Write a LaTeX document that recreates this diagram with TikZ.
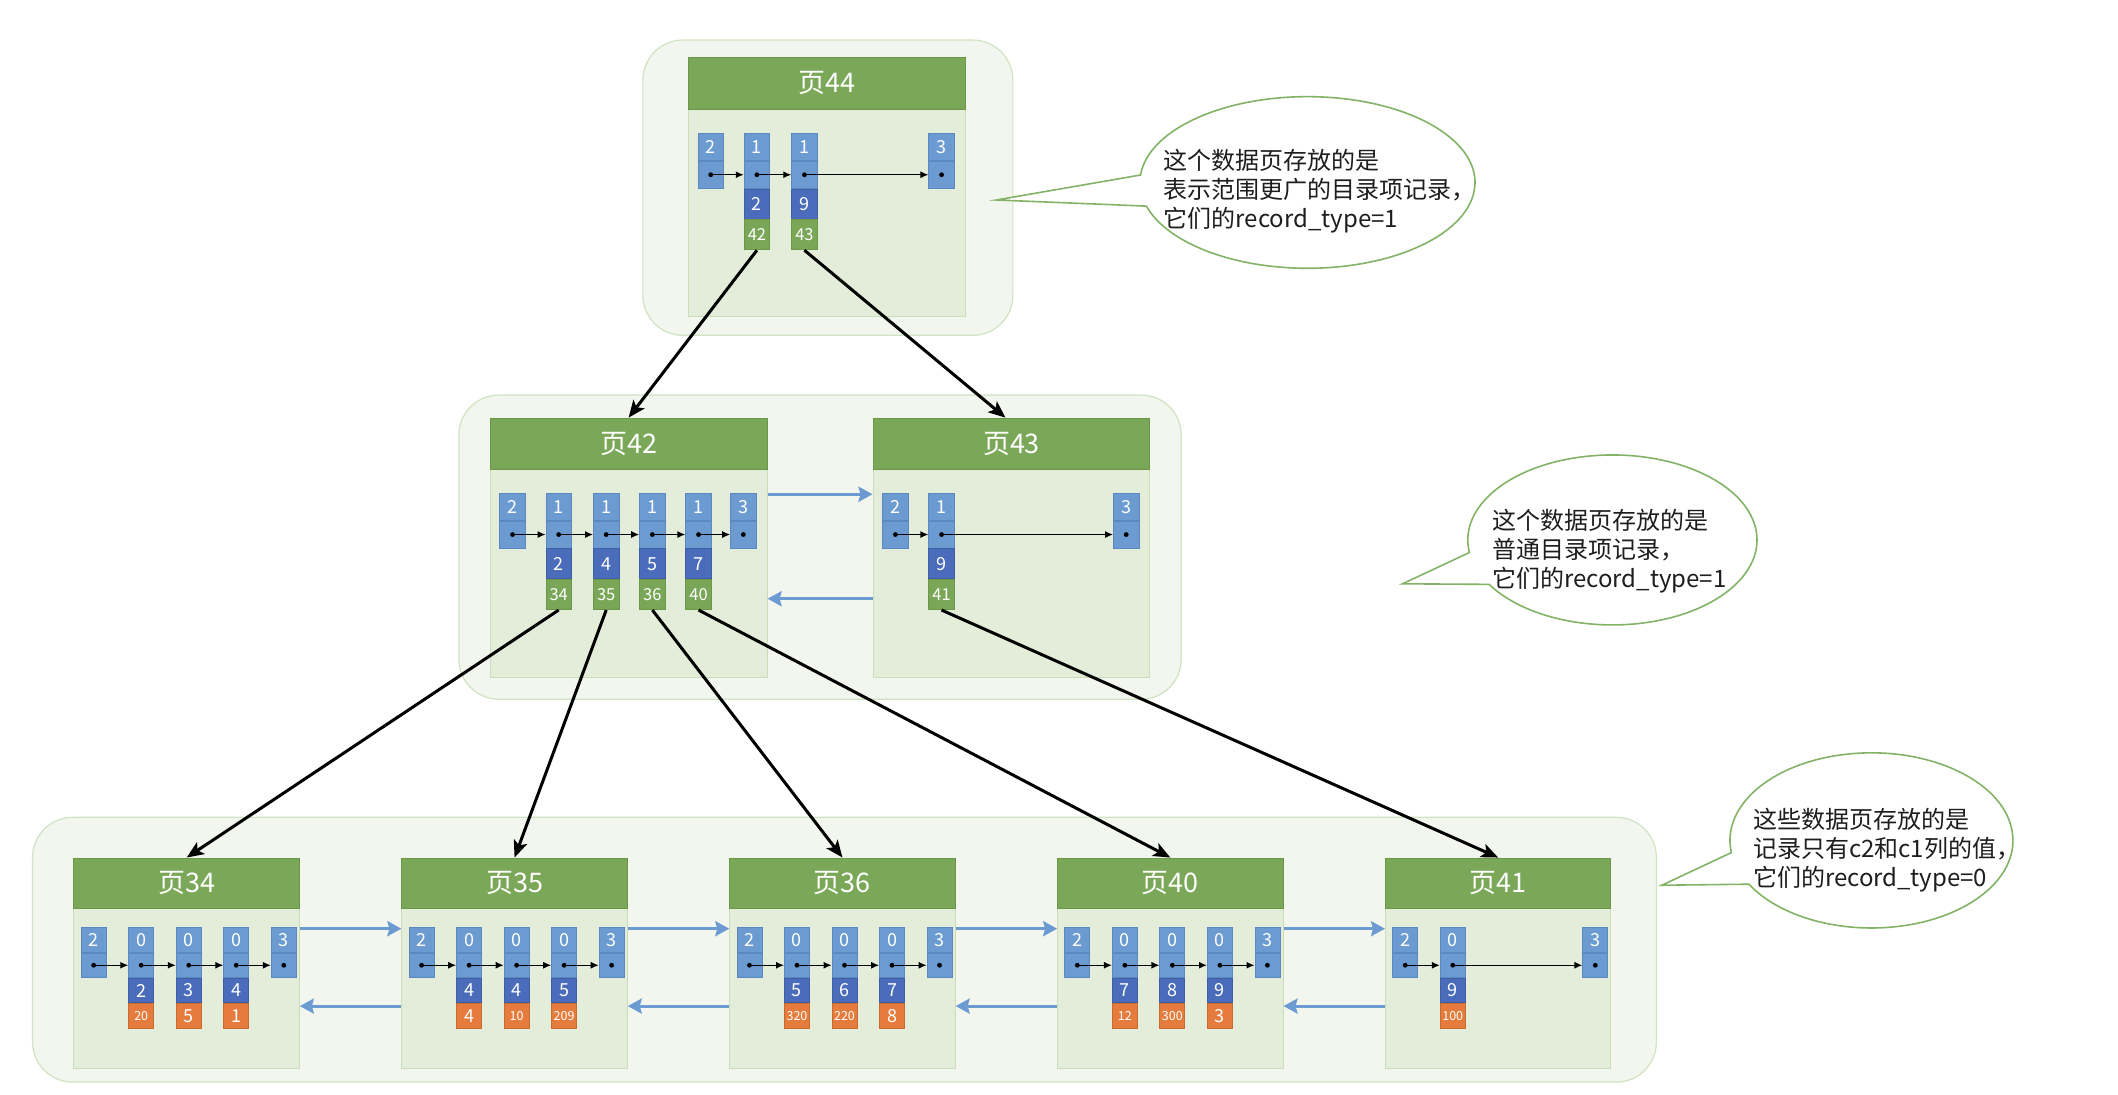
\documentclass[tikz,border=0pt]{standalone}
\usepackage{fontspec}
\setmainfont{Noto Sans CJK SC}
\usetikzlibrary{arrows.meta,fit}
\definecolor{regfill}{HTML}{F2F6EE}
\definecolor{regedge}{HTML}{D0E3C2}
\definecolor{bodyfill}{HTML}{E3EDD9}
\definecolor{bodyedge}{HTML}{C9DDB8}
\definecolor{headfill}{HTML}{7BA858}
\definecolor{headedge}{HTML}{6A9748}
\definecolor{recblue}{HTML}{6C9BD2}
\definecolor{recedge}{HTML}{5B88C0}
\definecolor{keyblue}{HTML}{4A6CBB}
\definecolor{keyedge}{HTML}{3E5EA8}
\definecolor{pggreen}{HTML}{7AA757}
\definecolor{pgedge}{HTML}{6A9748}
\definecolor{valorange}{HTML}{E57B3C}
\definecolor{valedge}{HTML}{C96A30}
\definecolor{calledge}{HTML}{82B366}
\definecolor{textdark}{HTML}{1E1E1E}
\newlength\cellw \newlength\cellha \newlength\cellhb
\newcommand\pagebox[7]{%
  \node[pagebody, fit={(#2,#3)(#4,#6)}] (#1) {};
  \node[pagehead, fit={(#2,#3)(#4,#5)}] (#1h) {};
  \node[headtext] (#1l) at (#1h.center) {#7};}
\newcommand\edgerec[4]{%
  \node[topcell, anchor=north] (#1t) at (#2,#3) {#4};
  \node[topcell, anchor=north] (#1d) at (#1t.south) {};
  \fill (#1d.center) circle[radius=2.4pt];}
\newcommand\userrec[7]{%
  \node[topcell, anchor=north] (#1t) at (#2,#3) {#4};
  \node[topcell, anchor=north] (#1d) at (#1t.south) {};
  \node[keycell, anchor=north] (#1k) at (#1d.south) {#5};
  \node[#6, anchor=north] (#1v) at (#1k.south) {#7};
  \fill (#1d.center) circle[radius=2.4pt];}
\begin{document}
\begin{tikzpicture}[x=1.3577pt,y=-1.3577pt,
  region/.style={draw=regedge, fill=regfill, rounded corners=40pt, inner sep=0pt, line width=1.2pt},
  pagebody/.style={draw=bodyedge, fill=bodyfill, inner sep=0pt, line width=1pt},
  pagehead/.style={draw=headedge, fill=headfill, inner sep=0pt, line width=1pt},
  headtext/.style={text=white, font=\fontsize{27}{27}\selectfont, inner sep=0pt},
  topcell/.style={draw=recedge, fill=recblue, minimum width=\cellw, minimum height=\cellha, inner sep=0pt, text=white, font=\fontsize{18}{18}\selectfont, line width=0.8pt},
  keycell/.style={topcell, draw=keyedge, fill=keyblue, minimum height=\cellhb},
  pgcell/.style={topcell, draw=pgedge, fill=pggreen, minimum height=\cellhb, font=\fontsize{16.5}{16.5}\selectfont},
  valcell/.style={topcell, draw=valedge, fill=valorange, minimum height=\cellhb},
  valsmall/.style={valcell, font=\fontsize{12.5}{12.5}\selectfont},
  link/.style={line width=1.3pt, -{Latex[length=8pt,width=7pt]}},
  treearrow/.style={line width=3pt, -{Stealth[length=17pt,width=14pt,inset=4pt]}},
  pagearrow/.style={draw=recblue, line width=3pt, -{Stealth[length=14pt,width=15pt,inset=2pt]}},
  callout/.style={draw=calledge, fill=white, line width=1.6pt},
  callouttext/.style={anchor=west, align=left, inner sep=0pt, text=textdark, font=\fontsize{24}{29}\selectfont}]

\fill[white] (0,0) rectangle (1560,805.8);
\useasboundingbox (0,0) rectangle (1560,805.8);

% regions
\node[region, fit={(473.5,29.5)(746,247)}] (reg0) {};
\node[region, fit={(338,291)(870,515)}] (reg1) {};
\node[region, fit={(24,602)(1220,797)}] (reg2) {};

% level 0
\pagebox{p44}{507}{42}{711}{81}{233}{页44}
\setlength\cellw{25.5pt}\setlength\cellha{27pt}\setlength\cellhb{30pt}
\edgerec{p44a}{523.5}{98}{2}
\userrec{p44b}{557.5}{98}{1}{2}{pgcell}{42}
\userrec{p44c}{592.5}{98}{1}{9}{pgcell}{43}
\edgerec{p44d}{693.5}{98}{3}
\draw[link] (p44ad.center) -- (p44bd.west);
\draw[link] (p44bd.center) -- (p44cd.west);
\draw[link] (p44cd.center) -- (p44dd.west);

% level 1
\pagebox{p42}{361}{308}{565}{346}{499}{页42}
\pagebox{p43}{643}{308}{847}{346}{499}{页43}
\edgerec{p42a}{377.5}{363}{2}
\userrec{p42b}{411.5}{363}{1}{2}{pgcell}{34}
\userrec{p42c}{446.5}{363}{1}{4}{pgcell}{35}
\userrec{p42d}{480.5}{363}{1}{5}{pgcell}{36}
\userrec{p42e}{514.5}{363}{1}{7}{pgcell}{40}
\edgerec{p42f}{547.5}{363}{3}
\draw[link] (p42ad.center) -- (p42bd.west);
\draw[link] (p42bd.center) -- (p42cd.west);
\draw[link] (p42cd.center) -- (p42dd.west);
\draw[link] (p42dd.center) -- (p42ed.west);
\draw[link] (p42ed.center) -- (p42fd.west);
\edgerec{p43a}{659.5}{363}{2}
\userrec{p43b}{693.5}{363}{1}{9}{pgcell}{41}
\edgerec{p43c}{829.5}{363}{3}
\draw[link] (p43ad.center) -- (p43bd.west);
\draw[link] (p43bd.center) -- (p43cd.west);
\draw[pagearrow] ([yshift=53.6pt]p42.east) -- ([yshift=53.6pt]p43.west);
\draw[pagearrow] ([yshift=-50.9pt]p43.west) -- ([yshift=-50.9pt]p42.east);

% level 2
\setlength\cellw{25pt}\setlength\cellha{24.5pt}\setlength\cellhb{24.5pt}
\pagebox{p34}{54.5}{632}{220.5}{669}{787}{页34}
\pagebox{p35}{296}{632}{462}{669}{787}{页35}
\pagebox{p36}{537.5}{632}{703.5}{669}{787}{页36}
\pagebox{p40}{779}{632}{945}{669}{787}{页40}
\pagebox{p41}{1020.5}{632}{1186.5}{669}{787}{页41}

\edgerec{p34a}{69}{683}{2}
\userrec{p34b}{104}{683}{0}{2}{valsmall}{20}
\userrec{p34c}{139}{683}{0}{3}{valcell}{5}
\userrec{p34d}{174}{683}{0}{4}{valcell}{1}
\edgerec{p34e}{209}{683}{3}

\edgerec{p35a}{310.5}{683}{2}
\userrec{p35b}{345.5}{683}{0}{4}{valcell}{4}
\userrec{p35c}{380.5}{683}{0}{4}{valsmall}{10}
\userrec{p35d}{415.5}{683}{0}{5}{valsmall}{209}
\edgerec{p35e}{450.5}{683}{3}

\edgerec{p36a}{552}{683}{2}
\userrec{p36b}{587}{683}{0}{5}{valsmall}{320}
\userrec{p36c}{622}{683}{0}{6}{valsmall}{220}
\userrec{p36d}{657}{683}{0}{7}{valcell}{8}
\edgerec{p36e}{692}{683}{3}

\edgerec{p40a}{793.5}{683}{2}
\userrec{p40b}{828.5}{683}{0}{7}{valsmall}{12}
\userrec{p40c}{863.5}{683}{0}{8}{valsmall}{300}
\userrec{p40d}{898.5}{683}{0}{9}{valcell}{3}
\edgerec{p40e}{933.5}{683}{3}

\edgerec{p41a}{1035}{683}{2}
\userrec{p41b}{1070}{683}{0}{9}{valsmall}{100}
\edgerec{p41c}{1175}{683}{3}

\foreach \p in {p34,p35,p36,p40}{
  \draw[link] (\p ad.center) -- (\p bd.west);
  \draw[link] (\p bd.center) -- (\p cd.west);
  \draw[link] (\p cd.center) -- (\p dd.west);
  \draw[link] (\p dd.center) -- (\p ed.west);
}
\draw[link] (p41ad.center) -- (p41bd.west);
\draw[link] (p41bd.center) -- (p41cd.west);

\foreach \a/\b in {p34/p35,p35/p36,p36/p40,p40/p41}{
  \draw[pagearrow] ([yshift=34.6pt]\a.east) -- ([yshift=34.6pt]\b.west);
  \draw[pagearrow] ([yshift=-42.8pt]\b.west) -- ([yshift=-42.8pt]\a.east);
}

% tree arrows
\draw[treearrow] (p44bv.south) -- (p42.north);
\draw[treearrow] (p44cv.south) -- ([xshift=-6pt]p43.north);
\draw[treearrow] (p42bv.south) -- (p34.north);
\draw[treearrow] (p42cv.south) -- (p35.north);
\draw[treearrow] (p42dv.south) -- (p36.north);
\draw[treearrow] (p42ev.south) -- (p40.north);
\draw[treearrow] (p43bv.south) -- (p41.north);

% callouts
\coordinate (c1) at (963,134.4);
\coordinate (c1tip) at (734,147.3);
\draw[callout] (c1) ++(185:123.4 and 63.2) arc[start angle=185, end angle=524, x radius=123.4, y radius=63.2] -- (c1tip) -- cycle;
\node[callouttext] (t1) at (857,141) {这个数据页存放的是\\表示范围更广的目录项记录，\\它们的record\_type=1};

\coordinate (c2) at (1187.6,397.7);
\coordinate (c2tip) at (1033,430);
\draw[callout] (c2) ++(171.5:106.5 and 62.6) arc[start angle=171.5, end angle=508.5, x radius=106.5, y radius=62.6] -- (c2tip) -- cycle;
\node[callouttext] (t2) at (1099,406) {这个数据页存放的是\\普通目录项记录，\\它们的record\_type=1};

\coordinate (c3) at (1378.4,619);
\coordinate (c3tip) at (1224,652);
\draw[callout] (c3) ++(172:104.2 and 64.5) arc[start angle=172, end angle=510, x radius=104.2, y radius=64.5] -- (c3tip) -- cycle;
\node[callouttext] (t3) at (1291,626) {这些数据页存放的是\\记录只有c2和c1列的值，\\它们的record\_type=0};
\end{tikzpicture}
\end{document}
